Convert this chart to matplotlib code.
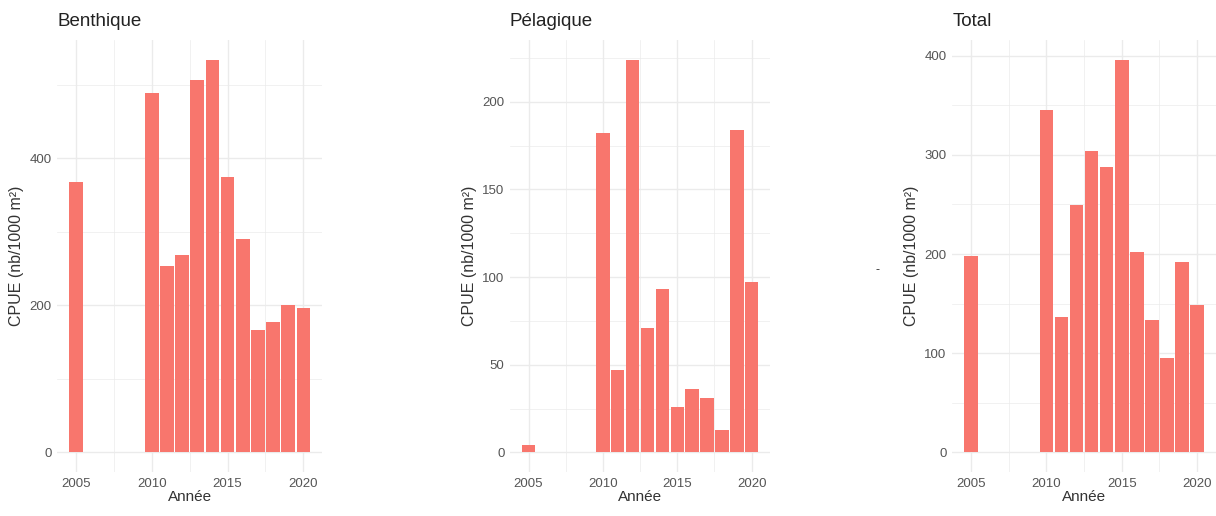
import matplotlib
matplotlib.use('Agg')
import matplotlib.pyplot as plt
from matplotlib.ticker import MultipleLocator

plt.rcParams['font.family'] = ['Liberation Sans', 'DejaVu Sans']

years = [2005, 2010, 2011, 2012, 2013, 2014, 2015, 2016, 2017, 2018, 2019, 2020]
benthique = [368, 489, 253, 269, 507, 534, 374, 290, 166, 177, 200, 197]
pelagique = [4, 182, 47, 224, 71, 93, 26, 36, 31, 13, 184, 97]
total = [198, 345, 137, 249, 304, 288, 396, 202, 133, 95, 192, 149]

panels = [
    ("Benthique", benthique, 200, [0.047, 0.0853, 0.218, 0.837]),
    ("Pélagique", pelagique, 50, [0.4194, 0.0853, 0.214, 0.837]),
    ("Total", total, 100, [0.783, 0.0853, 0.217, 0.837]),
]

BAR = "#F8766D"
GRID = "#ebebeb"
TICK = "#555555"

fig = plt.figure(figsize=(12.16, 5.16), dpi=100)

for title, values, step, rect in panels:
    ax = fig.add_axes(rect)
    ax.bar(years, values, width=0.9, color=BAR, zorder=2)
    vmax = max(values)
    ax.set_ylim(-0.05 * vmax, 1.05 * vmax)
    ax.set_xlim(2004.55 - 0.795, 2020.45 + 0.795)
    ax.xaxis.set_major_locator(MultipleLocator(5))
    ax.xaxis.set_minor_locator(MultipleLocator(2.5))
    ax.yaxis.set_major_locator(MultipleLocator(step))
    ax.yaxis.set_minor_locator(MultipleLocator(step / 2))
    ax.grid(which='major', color=GRID, linewidth=1.0, zorder=0)
    ax.grid(which='minor', color=GRID, linewidth=0.5, zorder=0)
    ax.set_axisbelow(True)
    for s in ax.spines.values():
        s.set_visible(False)
    ax.tick_params(which='both', length=0, labelsize=9.5, labelcolor=TICK, pad=4)
    ax.set_xlabel("Année", fontsize=11, labelpad=0, color="#333333")
    ax.set_ylabel("CPUE (nb/1000 m²)", fontsize=11.5, labelpad=4, color="#333333")
    ax.set_title(title, loc='left', fontsize=13.5, pad=10, color="#222222")

# stray dash left of the last panel
fig.text(878 / 1216, 1 - 270 / 516, "-", fontsize=9, color="#333333",
         ha='center', va='center')

fig.savefig("out.png", dpi=100)
